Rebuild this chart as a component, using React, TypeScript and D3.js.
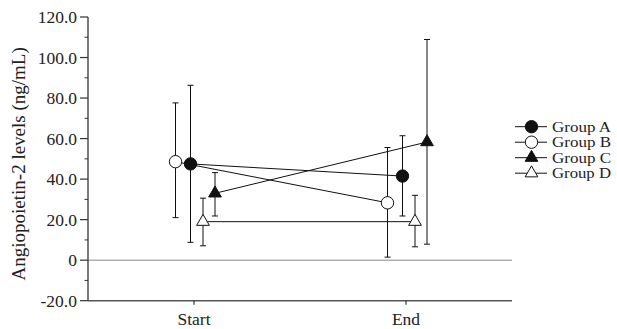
import React from "react";
import * as d3 from "d3";

const timepoints = ["Start", "End"];
const groups = ["Group A", "Group B", "Group C", "Group D"];
const meanA = [47.5, 41.5];
const lowA = [8.8, 21.8];
const highA = [86.3, 61.4];
const meanB = [48.6, 28.3];
const lowB = [21.0, 1.5];
const highB = [77.6, 55.6];
const meanC = [33.0, 58.3];
const lowC = [21.8, 7.9];
const highC = [43.2, 108.9];
const meanD = [19.0, 19.0];
const lowD = [7.1, 6.6];
const highD = [30.6, 32.0];
const yTicks = [-20, 0, 20, 40, 60, 80, 100, 120];
const yMinorTicks = [-10, 10, 30, 50, 70, 90, 110];

const series = [
  { name: groups[0], mean: meanA, low: lowA, high: highA },
  { name: groups[1], mean: meanB, low: lowB, high: highB },
  { name: groups[2], mean: meanC, low: lowC, high: highC },
  { name: groups[3], mean: meanD, low: lowD, high: highD },
];

const W = 617;
const H = 329;
const left = 88;
const right = 512;
const top = 17;
const bottom = 300.7;
const FONT = "'Liberation Serif', 'Times New Roman', serif";

const style: Record<string, { shape: string; fill: string; dx: number }> = {
  "Group A": { shape: "circle", fill: "#111", dx: -3.5 },
  "Group B": { shape: "circle", fill: "#fff", dx: -18.5 },
  "Group C": { shape: "triangle", fill: "#111", dx: 21 },
  "Group D": { shape: "triangle", fill: "#fff", dx: 9 },
};

function Marker({ x, y, name }: { x: number; y: number; name: string }) {
  const s = style[name];
  if (s.shape === "circle") {
    return <circle cx={x} cy={y} r={6.2} fill={s.fill} stroke="#111" strokeWidth={1} />;
  }
  const path = d3.symbol().type(d3.symbolTriangle).size(70)() as string;
  return <path d={path} transform={`translate(${x},${y})`} fill={s.fill} stroke="#111" strokeWidth={1} />;
}

export default function App() {
  const x = d3.scalePoint<string>().domain(timepoints).range([left, right]).padding(0.5);
  const y = d3.scaleLinear().domain([-20, 120]).range([bottom, top]);
  const px = (t: string, g: string) => (x(t) as number) + style[g].dx;

  return (
    <svg
      width={W}
      height={H}
      style={{ position: "absolute", left: 0, top: 0, background: "#fff" }}
      fontFamily={FONT}
    >
      {/* zero line */}
      <line x1={left} x2={right} y1={y(0)} y2={y(0)} stroke="#b0b0b0" strokeWidth={1.5} />
      {/* y axis */}
      <line x1={left} x2={left} y1={top} y2={bottom} stroke="#333" strokeWidth={1.3} />
      {yTicks.map((t) => (
        <g key={t}>
          <line x1={left - 8} x2={left} y1={y(t)} y2={y(t)} stroke="#333" strokeWidth={1.2} />
          <text x={left - 11} y={y(t)} dy="0.35em" textAnchor="end" fontSize={17.5} fill="#222">
            {t === 0 ? "0" : t.toFixed(1)}
          </text>
        </g>
      ))}
      {yMinorTicks.map((t) => (
        <line key={t} x1={left - 3.5} x2={left} y1={y(t)} y2={y(t)} stroke="#333" strokeWidth={1} />
      ))}
      {/* x axis */}
      <line x1={left} x2={right} y1={bottom} y2={bottom} stroke="#555" strokeWidth={1.5} />
      {timepoints.map((t) => (
        <g key={t}>
          <line x1={x(t)} x2={x(t)} y1={bottom} y2={bottom + 4} stroke="#333" strokeWidth={1.2} />
          <text x={x(t)} y={bottom + 24} textAnchor="middle" fontSize={17.5} fill="#222">
            {t}
          </text>
        </g>
      ))}
      {/* y label */}
      <text
        transform={`translate(25,${(top + bottom) / 2 + 5}) rotate(-90)`}
        textAnchor="middle"
        fontSize={19}
        fill="#222"
      >
        Angiopoietin-2 levels (ng/mL)
      </text>
      {/* connecting lines */}
      {series.map((s) => (
        <path
          key={s.name + "l"}
          d={
            d3
              .line<number>()
              .x((_, i) => px(timepoints[i], s.name))
              .y((d) => y(d))(s.mean) as string
          }
          fill="none"
          stroke="#111"
          strokeWidth={1}
        />
      ))}
      {/* error bars */}
      {series.map((s) =>
        timepoints.map((t, i) => {
          const cx = px(t, s.name);
          return (
            <g key={s.name + t + "e"} stroke="#111" strokeWidth={1}>
              <line x1={cx} x2={cx} y1={y(s.low[i])} y2={y(s.high[i])} />
              <line x1={cx - 3} x2={cx + 3} y1={y(s.low[i])} y2={y(s.low[i])} />
              <line x1={cx - 3} x2={cx + 3} y1={y(s.high[i])} y2={y(s.high[i])} />
            </g>
          );
        })
      )}
      {/* markers */}
      {series.map((s) =>
        timepoints.map((t, i) => (
          <Marker key={s.name + t + "m"} x={px(t, s.name)} y={y(s.mean[i])} name={s.name} />
        ))
      )}
      {/* legend */}
      {groups.map((g, i) => {
        const ly = 126.7 + i * 15.5;
        return (
          <g key={g + "leg"}>
            <line x1={515} x2={547} y1={ly} y2={ly} stroke="#111" strokeWidth={1} />
            <Marker x={531.5} y={ly} name={g} />
            <text
              x={552}
              y={ly}
              dy="0.35em"
              fontSize={14}
              textLength={59}
              lengthAdjust="spacingAndGlyphs"
              fill="#222"
            >
              {g}
            </text>
          </g>
        );
      })}
    </svg>
  );
}
